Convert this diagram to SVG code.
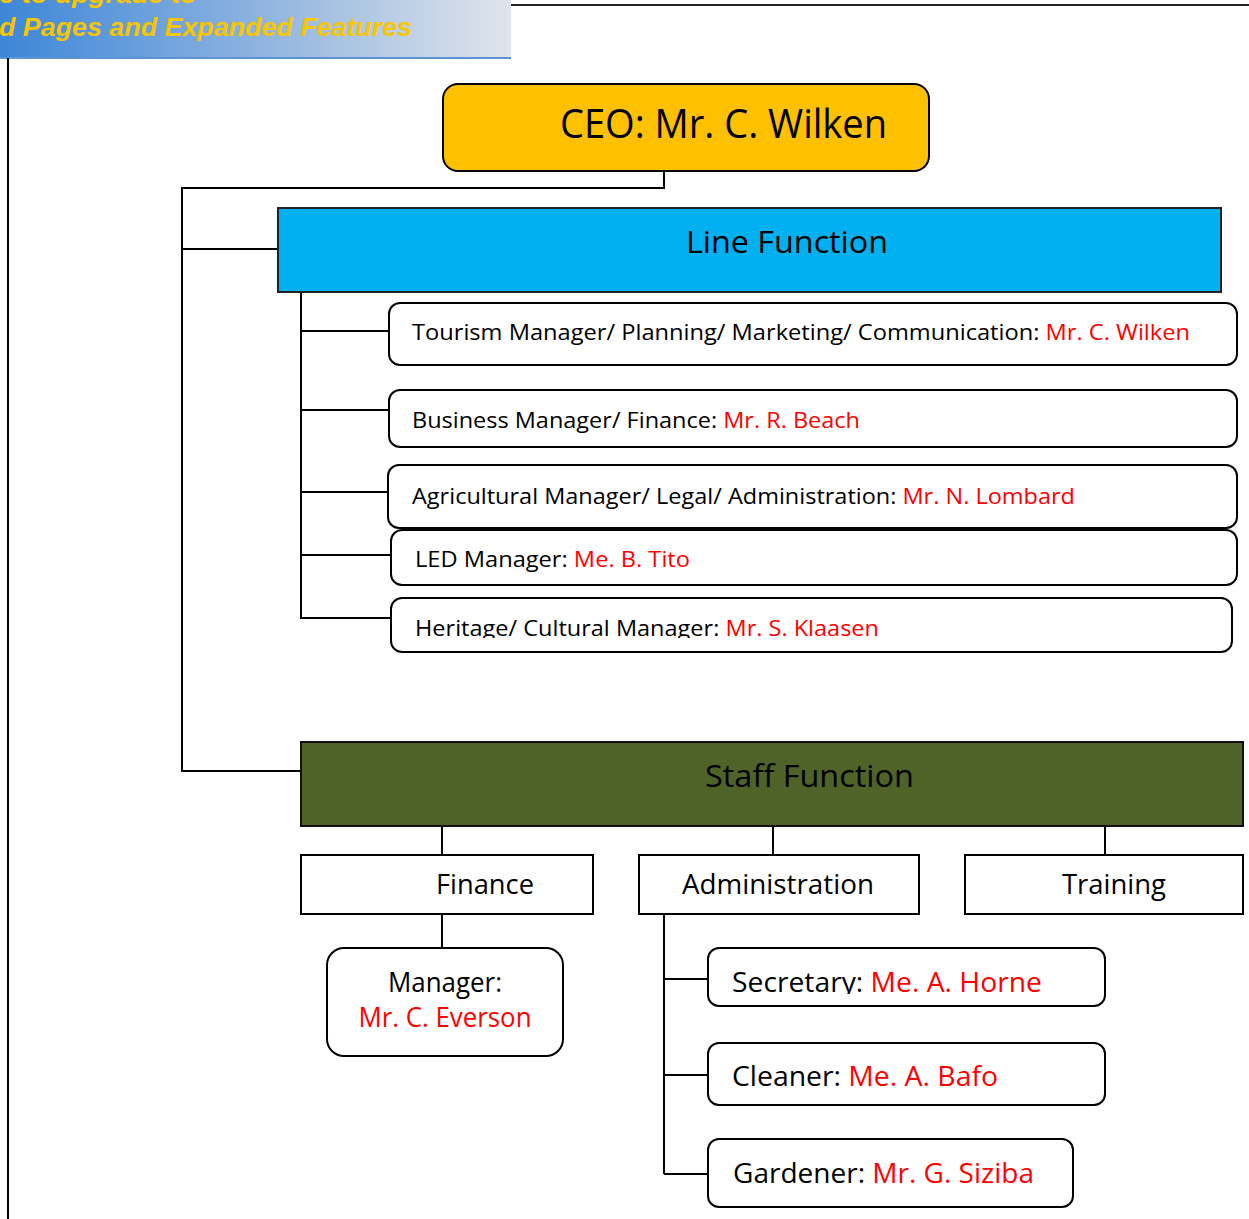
<svg xmlns="http://www.w3.org/2000/svg" width="1249" height="1219" viewBox="0 0 1249 1219">
<defs>
<linearGradient id="bannerGrad" x1="0" y1="0" x2="1" y2="0">
<stop offset="0" stop-color="#3d86d8"/>
<stop offset="0.5" stop-color="#8db3df"/>
<stop offset="1" stop-color="#e0e4ea"/>
</linearGradient>
<clipPath id="clipHeritage"><rect x="380" y="590" width="870" height="48"/></clipPath>
<clipPath id="clipSecretary"><rect x="700" y="940" width="420" height="54"/></clipPath>
<style>
.t{font-family:"Open Sans","Noto Sans","Liberation Sans",sans-serif;fill:#000}
.r{fill:#ff0000}
.box{fill:#fff;stroke:#000;stroke-width:2}
.conn{fill:none;stroke:#000;stroke-width:2}
.ban{font-family:"Liberation Sans",Arial,sans-serif;font-weight:bold;font-style:italic;font-size:26px;fill:#f7c600}
</style>
</defs>
<rect width="1249" height="1219" fill="#fff"/>
<g id="banner">
<rect x="0" y="0" width="511" height="58" fill="url(#bannerGrad)"/>
<line x1="0" y1="58" x2="511" y2="58" stroke="#5b93d4" stroke-width="2"/>
<text class="ban" x="-1" y="3" textLength="198" lengthAdjust="spacingAndGlyphs">e to upgrade to</text>
<text class="ban" x="-1" y="36" textLength="413" lengthAdjust="spacingAndGlyphs">d Pages and Expanded Features</text>
</g>
<g id="page-lines">
<line x1="511" y1="5" x2="1249" y2="5" stroke="#222" stroke-width="2"/>
<line x1="8" y1="58" x2="8" y2="1219" stroke="#000" stroke-width="2"/>
</g>
<g id="connectors">
<polyline class="conn" points="664,171 664,188 182,188 182,771 301,771"/>
<line class="conn" x1="182" y1="249" x2="278" y2="249"/>
<line class="conn" x1="301" y1="292" x2="301" y2="618"/>
<line class="conn" x1="301" y1="331" x2="389" y2="331"/>
<line class="conn" x1="301" y1="410" x2="389" y2="410"/>
<line class="conn" x1="301" y1="492" x2="388" y2="492" stroke-width="3"/>
<line class="conn" x1="301" y1="555" x2="391" y2="555"/>
<line class="conn" x1="300" y1="618" x2="393" y2="618"/>
<line class="conn" x1="442" y1="826" x2="442" y2="855"/>
<line class="conn" x1="773" y1="826" x2="773" y2="855"/>
<line class="conn" x1="1105" y1="826" x2="1105" y2="855"/>
<line class="conn" x1="442" y1="914" x2="442" y2="948"/>
<line class="conn" x1="664" y1="914" x2="664" y2="1174"/>
<line class="conn" x1="664" y1="979" x2="708" y2="979"/>
<line class="conn" x1="664" y1="1075" x2="708" y2="1075"/>
<line class="conn" x1="664" y1="1174" x2="708" y2="1174"/>
</g>
<g id="ceo">
<rect x="443" y="84" width="486" height="87" rx="15" fill="#ffc000" stroke="#000" stroke-width="2"/>
<text class="t" x="560" y="138" font-size="40" textLength="327" lengthAdjust="spacingAndGlyphs">CEO: Mr. C. Wilken</text>
</g>
<g id="line-function">
<rect x="278" y="208" width="943" height="84" fill="#00b0f0" stroke="#222" stroke-width="2"/>
<text class="t" x="686" y="253" font-size="31" textLength="202" lengthAdjust="spacingAndGlyphs">Line Function</text>
</g>
<g id="tourism">
<rect class="box" x="389" y="303" width="848" height="62" rx="11"/>
<text class="t" x="412" y="340" font-size="22" textLength="778" lengthAdjust="spacingAndGlyphs">Tourism Manager/ Planning/ Marketing/ Communication: <tspan class="r">Mr. C. Wilken</tspan></text>
</g>
<g id="business">
<rect class="box" x="389" y="390" width="848" height="57" rx="11"/>
<text class="t" x="412" y="428" font-size="22" textLength="448" lengthAdjust="spacingAndGlyphs">Business Manager/ Finance: <tspan class="r">Mr. R. Beach</tspan></text>
</g>
<g id="agricultural">
<rect class="box" x="388" y="465" width="849" height="63" rx="11"/>
<text class="t" x="412" y="504" font-size="22" textLength="663" lengthAdjust="spacingAndGlyphs">Agricultural Manager/ Legal/ Administration: <tspan class="r">Mr. N. Lombard</tspan></text>
</g>
<g id="led">
<rect class="box" x="391" y="530" width="846" height="55" rx="11"/>
<text class="t" x="415" y="567" font-size="22" textLength="275" lengthAdjust="spacingAndGlyphs">LED Manager: <tspan class="r">Me. B. Tito</tspan></text>
</g>
<g id="heritage">
<rect class="box" x="391" y="598" width="841" height="54" rx="11"/>
<text class="t" x="415" y="636" font-size="22" textLength="464" lengthAdjust="spacingAndGlyphs" clip-path="url(#clipHeritage)">Heritage/ Cultural Manager: <tspan class="r">Mr. S. Klaasen</tspan></text>
</g>
<g id="staff-function">
<rect x="301" y="742" width="942" height="84" fill="#4f6228" stroke="#111" stroke-width="2"/>
<text class="t" x="705" y="787" font-size="31" textLength="209" lengthAdjust="spacingAndGlyphs">Staff Function</text>
</g>
<g id="finance">
<rect class="box" x="301" y="855" width="292" height="59"/>
<text class="t" x="436" y="894" font-size="28" textLength="98" lengthAdjust="spacingAndGlyphs">Finance</text>
</g>
<g id="administration">
<rect class="box" x="639" y="855" width="280" height="59"/>
<text class="t" x="682" y="894" font-size="28" textLength="192" lengthAdjust="spacingAndGlyphs">Administration</text>
</g>
<g id="training">
<rect class="box" x="965" y="855" width="278" height="59"/>
<text class="t" x="1062" y="894" font-size="28" textLength="104" lengthAdjust="spacingAndGlyphs">Training</text>
</g>
<g id="finance-manager">
<rect class="box" x="327" y="948" width="236" height="108" rx="17"/>
<text class="t" x="445" y="992" font-size="27" text-anchor="middle" textLength="114" lengthAdjust="spacingAndGlyphs">Manager:</text>
<text class="t r" x="445" y="1027" font-size="27" text-anchor="middle" textLength="173" lengthAdjust="spacingAndGlyphs">Mr. C. Everson</text>
</g>
<g id="secretary">
<rect class="box" x="708" y="948" width="397" height="58" rx="11"/>
<text class="t" x="732" y="992" font-size="28" textLength="310" lengthAdjust="spacingAndGlyphs" clip-path="url(#clipSecretary)">Secretary: <tspan class="r">Me. A. Horne</tspan></text>
</g>
<g id="cleaner">
<rect class="box" x="708" y="1043" width="397" height="62" rx="11"/>
<text class="t" x="732" y="1086" font-size="28" textLength="266" lengthAdjust="spacingAndGlyphs">Cleaner: <tspan class="r">Me. A. Bafo</tspan></text>
</g>
<g id="gardener">
<rect class="box" x="708" y="1139" width="365" height="68" rx="11"/>
<text class="t" x="733" y="1183" font-size="28" textLength="301" lengthAdjust="spacingAndGlyphs">Gardener: <tspan class="r">Mr. G. Siziba</tspan></text>
</g>
</svg>
